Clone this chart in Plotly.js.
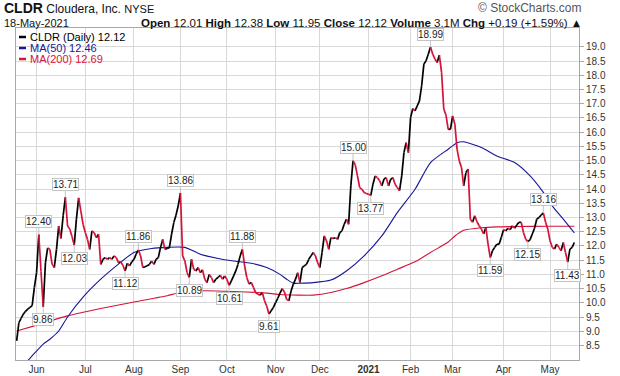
<!DOCTYPE html>
<html><head><meta charset="utf-8">
<script src="https://cdn.plot.ly/plotly-3.0.1.min.js"></script>
<style>html,body{margin:0;padding:0;background:#fff;}#chart{width:620px;height:376px;}</style>
</head><body><div id="chart"></div>
<script>
// Daily closes, trading-day index 0 = 18-May-2020 ... 252 = 18-May-2021
const prices = [
 8.66, 9.30, 9.45, 9.60, 9.70, 9.78, 9.84, 9.90,10.54,11.06,
12.40,11.10, 9.86,11.40,11.93,11.88,11.36,11.24,11.88,12.70,
12.26,13.06,13.71,12.70,12.59,12.33,12.03,12.94,13.69,13.23,
12.76,12.47,12.23,11.88,12.53,12.47,12.29,12.41,11.35,11.53,
11.59,11.53,11.59,11.53,11.65,11.59,11.41,11.44,11.32,11.12,
11.39,11.30,11.44,11.53,11.71,11.86,11.65,11.24,11.27,11.30,
11.35,11.47,11.35,11.53,11.59,11.94,12.23,11.88,11.91,11.94,
12.41,12.82,13.08,13.41,13.86,11.65,11.47,11.06,10.89,11.53,
11.18,11.12,11.24,11.06,11.16,10.83,10.71,11.00,10.89,10.71,
10.83,10.89,10.97,10.83,10.94,10.83,10.61,10.77,10.94,11.12,
11.35,11.65,11.88,11.30,10.89,10.66,10.72,10.54,10.36,10.30,
10.27,10.36,10.07, 9.88, 9.61, 9.72, 9.84,10.01,10.16,10.34,
10.50,10.38,10.12,10.07,10.42,10.65,10.83,11.06,10.71,11.24,
11.30,11.36,11.53,11.65,11.77,11.65,11.41,11.24,11.77,12.35,
12.18,11.88,12.29,12.26,12.29,12.23,12.47,12.53,12.76,12.94,
12.76,14.11,15.00,14.85,14.46,14.05,13.99,13.88,13.84,13.82,
13.77,14.17,14.46,14.40,14.29,14.11,14.35,14.40,14.11,14.34,
14.40,14.17,14.05,13.94,14.46,15.28,15.63,15.28,16.51,16.83,
16.75,16.92,17.10,17.63,18.39,18.51,18.74,18.99,18.74,18.57,
18.45,18.71,18.10,16.81,16.60,16.10,16.10,16.57,16.28,15.40,
14.99,14.76,14.11,14.58,14.70,12.94,12.83,13.06,12.85,12.71,
12.59,12.42,12.65,12.06,11.59,11.83,11.95,12.06,12.06,12.30,
12.57,12.53,12.62,12.57,12.71,12.62,12.74,12.83,12.83,12.47,
12.24,12.15,12.22,12.42,12.62,12.94,13.00,13.08,13.16,12.83,
12.59,12.18,11.95,11.89,12.06,11.95,11.83,12.12,11.77,11.43,
11.89,11.95,12.12];

const ma50Idx = [0,6,12,15,19,23,30,38,46,53,61,68,76,83,91,98,106,113,119,122,125,128,134,142,149,157,165,172,180,187,195,199,202,210,217,225,232,238,242,247,252];
const ma50Val = [7.55,8.05,8.55,8.72,9.01,9.50,10.20,10.83,11.36,11.77,11.91,11.95,11.95,11.71,11.56,11.47,11.39,11.24,11.00,10.83,10.69,10.69,10.71,10.80,11.12,11.65,12.35,13.17,13.99,14.93,15.40,15.63,15.66,15.46,15.16,14.93,14.46,13.88,13.41,12.94,12.46];

const ma200Idx = [0,8,23,38,53,68,74,83,98,113,119,127,134,142,149,157,165,172,180,187,195,198,202,210,217,225,240,252];
const ma200Val = [9.01,9.19,9.54,9.80,10.03,10.25,10.36,10.42,10.40,10.34,10.29,10.27,10.27,10.36,10.50,10.71,10.95,11.18,11.44,11.77,12.14,12.35,12.55,12.64,12.67,12.68,12.69,12.69];

const monthIdx = [9,31,53,74,95,117,137,159,178,197,220,241];
const monthLabels = ['Jun','Jul','Aug','Sep','Oct','Nov','Dec','<b>2021</b>','Feb','Mar','Apr','May'];
const yTicks = [8.5,9.0,9.5,10.0,10.5,11.0,11.5,12.0,12.5,13.0,13.5,14.0,14.5,15.0,15.5,16.0,16.5,17.0,17.5,18.0,18.5,19.0];

// highs/lows flagged on the chart
const labelIdx  = [10,12,22,26,49,55,74,78,96,102,114,152,160,187,214,231,238,249];
const labelSide = ['up','dn','up','dn','dn','up','up','dn','dn','up','dn','up','dn','up','dn','dn','up','dn'];

const statNames  = ['Open','High','Low','Close','Volume','Chg'];
const statValues = ['12.01','12.38','11.95','12.12','3.1M','+0.19 (+1.59%)'];

const FONT = 'Liberation Sans, Arial, sans-serif';
const RED = '#d4143a', BLUE = '#17179a';

// build up/down coloured segments
const upX=[],upY=[],dnX=[],dnY=[];
for (let i=1;i<prices.length;i++){
  const tx = prices[i]>=prices[i-1] ? [upX,upY] : [dnX,dnY];
  tx[0].push(i-1,i,null); tx[1].push(prices[i-1],prices[i],null);
}

const traces = [
  {x:ma200Idx,y:ma200Val,type:'scatter',mode:'lines',line:{color:RED,width:1.1,shape:'spline',smoothing:0.6},hoverinfo:'skip'},
  {x:ma50Idx,y:ma50Val,type:'scatter',mode:'lines',line:{color:BLUE,width:1.1,shape:'spline',smoothing:0.6},hoverinfo:'skip'},
  {x:upX,y:upY,type:'scatter',mode:'lines',line:{color:'#000',width:1.7},connectgaps:false,hoverinfo:'skip'},
  {x:dnX,y:dnY,type:'scatter',mode:'lines',line:{color:RED,width:1.7},connectgaps:false,hoverinfo:'skip'}
];

const PL=16, PR=579, PT=28, PB=360;
const px = x => (x-PL)/(PR-PL);
const py = y => (PB-y)/(PB-PT);

const ann = [];
labelIdx.forEach((idx,k)=>{
  const up = labelSide[k]==='up';
  ann.push({x:idx,y:prices[idx],xref:'x',yref:'y',text:prices[idx].toFixed(2),
    showarrow:true,arrowhead:0,arrowwidth:1,arrowcolor:'#c4c4c4',ax:0,ay:up?-13:13,standoff:0,
    bgcolor:'#fff',bordercolor:'#c4c4c4',borderwidth:1,borderpad:0,height:11,
    font:{family:FONT,size:10,color:'#222'}});
});

// header
ann.push({xref:'paper',yref:'paper',x:px(2),y:py(8),xanchor:'left',yanchor:'middle',showarrow:false,
  text:'<b><span style="font-size:14px">CLDR</span></b> Cloudera, Inc. <span style="font-size:11px">NYSE</span>',
  font:{family:FONT,size:12,color:'#111'}});
ann.push({xref:'paper',yref:'paper',x:px(584),y:py(8),xanchor:'right',yanchor:'middle',showarrow:false,
  text:'© StockCharts.com',font:{family:FONT,size:12,color:'#555'}});
ann.push({xref:'paper',yref:'paper',x:px(2),y:py(22.5),xanchor:'left',yanchor:'middle',showarrow:false,
  text:'18-May-2021',font:{family:FONT,size:11,color:'#111'}});
ann.push({xref:'paper',yref:'paper',x:px(584),y:py(22.5),xanchor:'right',yanchor:'middle',showarrow:false,
  text:statNames.map((n,k)=>'<b>'+n+'</b> '+statValues[k]).join(' ')+' ▲',font:{family:FONT,size:11.5,color:'#111'}});

// legend
const legItems = [
  {txt:'CLDR (Daily) '+prices[prices.length-1].toFixed(2), col:'#000'},
  {txt:'MA(50) '+ma50Val[ma50Val.length-1].toFixed(2), col:BLUE},
  {txt:'MA(200) '+ma200Val[ma200Val.length-1].toFixed(2), col:RED}
];
const shapes = [];
legItems.forEach((it,k)=>{
  const yy = 37 + k*11;
  shapes.push({type:'line',xref:'paper',yref:'paper',x0:px(19),x1:px(26),y0:py(yy),y1:py(yy),line:{color:it.col,width:2.5}});
  ann.push({xref:'paper',yref:'paper',x:px(28),y:py(yy),xanchor:'left',yanchor:'middle',showarrow:false,
    text:it.txt,font:{family:FONT,size:11,color:it.col}});
});

const layout = {
  width:620,height:376,margin:{l:PL,r:620-PR,t:PT,b:376-PB,pad:0},
  paper_bgcolor:'#fff',plot_bgcolor:'#fff',showlegend:false,
  xaxis:{range:[-0.3,254.1],tickmode:'array',tickvals:monthIdx,ticktext:monthLabels,
    showgrid:true,gridcolor:'#d9d9d9',gridwidth:1,showline:true,mirror:true,linecolor:'#a8a8a8',
    ticks:'',zeroline:false,tickfont:{family:FONT,size:10,color:'#333'},fixedrange:true},
  yaxis:{range:[7.99,19.66],side:'right',tickmode:'array',tickvals:yTicks,tickformat:'.1f',
    showgrid:true,gridcolor:'#d9d9d9',gridwidth:1,showline:true,mirror:true,linecolor:'#a8a8a8',
    ticks:'outside',ticklen:4,tickcolor:'#a8a8a8',zeroline:false,tickfont:{family:FONT,size:10,color:'#333'},fixedrange:true},
  annotations:ann,shapes:shapes
};
Plotly.newPlot('chart',traces,layout,{staticPlot:true,displayModeBar:false});
</script>
</body></html>
